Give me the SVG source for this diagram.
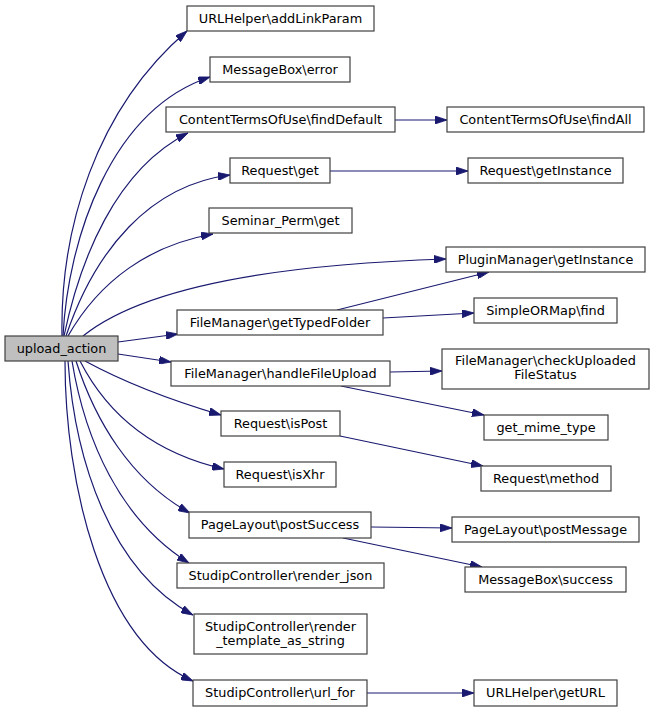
<svg xmlns="http://www.w3.org/2000/svg" width="655" height="712" viewBox="0 0 655 712">
<style>
.n rect{fill:#ffffff;stroke:#404040;stroke-width:1.2}
.n.root rect{fill:#bfbfbf}
text{font-family:"DejaVu Sans","Liberation Sans",sans-serif;font-size:12.85px;fill:#000000;text-anchor:middle}
.e path{fill:none;stroke:#191970;stroke-width:1.2}
</style>
<defs>
<marker id="ah" markerUnits="userSpaceOnUse" markerWidth="12" markerHeight="8" refX="12" refY="4" orient="auto">
<path d="M0,0 L12,4 L0,8 z" fill="#191970" stroke="#191970" stroke-width="0.8"/>
</marker>
</defs>
<rect width="655" height="712" fill="#ffffff"/>
<g id="edges" class="e">
<path marker-end="url(#ah)" d="M62,336 C60,230 95,110 187,31"/>
<path marker-end="url(#ah)" d="M63,336 C68,240 110,110 210,77"/>
<path marker-end="url(#ah)" d="M64,336 C80,260 115,170 188,133"/>
<path marker-end="url(#ah)" d="M66,336 C95,250 150,185 230,175"/>
<path marker-end="url(#ah)" d="M68,336 C100,280 150,245 213,234"/>
<path marker-end="url(#ah)" d="M83,336 C140,290 260,265 446,259"/>
<path marker-end="url(#ah)" d="M118,342 L178,334"/>
<path marker-end="url(#ah)" d="M118,354 L171,362"/>
<path marker-end="url(#ah)" d="M85,361 C120,380 170,400 221,415"/>
<path marker-end="url(#ah)" d="M80,361 C100,400 140,450 224,469"/>
<path marker-end="url(#ah)" d="M76,361 C95,420 130,480 190,513"/>
<path marker-end="url(#ah)" d="M72,361 C85,440 120,520 189,563"/>
<path marker-end="url(#ah)" d="M68,361 C75,460 110,570 193,615"/>
<path marker-end="url(#ah)" d="M65,361 C65,480 100,640 193,681"/>
<path marker-end="url(#ah)" d="M395,120 L447,120"/>
<path marker-end="url(#ah)" d="M330,171 L468,171"/>
<path marker-end="url(#ah)" d="M337,310 L489,272"/>
<path marker-end="url(#ah)" d="M383,318 L474,313"/>
<path marker-end="url(#ah)" d="M390,372 L442,371"/>
<path marker-end="url(#ah)" d="M341,386 L484,415"/>
<path marker-end="url(#ah)" d="M340,436 L483,466"/>
<path marker-end="url(#ah)" d="M371,527 L452,528"/>
<path marker-end="url(#ah)" d="M343,538 L482,567"/>
<path marker-end="url(#ah)" d="M367,693 L474,693"/>
</g>
<g id="upload_action" class="n root"><rect x="5" y="336" width="113" height="25"/><text x="61.5" y="352.5">upload_action</text></g>
<g id="addLinkParam" class="n"><rect x="187" y="6" width="187" height="25"/><text x="280.5" y="22.5">URLHelper\addLinkParam</text></g>
<g id="error" class="n"><rect x="210" y="57" width="140" height="25"/><text x="280" y="73.5">MessageBox\error</text></g>
<g id="findDefault" class="n"><rect x="166" y="107" width="229" height="25"/><text x="280.5" y="123.5">ContentTermsOfUse\findDefault</text></g>
<g id="findAll" class="n"><rect x="447" y="107" width="197" height="25"/><text x="545.5" y="123.5">ContentTermsOfUse\findAll</text></g>
<g id="get" class="n"><rect x="230" y="158" width="100" height="25"/><text x="280" y="174.5">Request\get</text></g>
<g id="getInstance" class="n"><rect x="468" y="158" width="155" height="25"/><text x="545.5" y="174.5">Request\getInstance</text></g>
<g id="seminarGet" class="n"><rect x="209" y="208" width="143" height="25"/><text x="280.5" y="224.5">Seminar_Perm\get</text></g>
<g id="pluginGetInstance" class="n"><rect x="446" y="247" width="199" height="25"/><text x="545.5" y="263.5">PluginManager\getInstance</text></g>
<g id="getTypedFolder" class="n"><rect x="177" y="310" width="206" height="25"/><text x="280" y="326.5">FileManager\getTypedFolder</text></g>
<g id="simpleFind" class="n"><rect x="474" y="298" width="143" height="25"/><text x="545.5" y="314.5">SimpleORMap\find</text></g>
<g id="handleFileUpload" class="n"><rect x="171" y="361" width="219" height="25"/><text x="280.5" y="377.5">FileManager\handleFileUpload</text></g>
<g id="checkUploaded" class="n"><rect x="442" y="349" width="207" height="40"/><text x="545.5" y="365">FileManager\checkUploaded</text><text x="545.5" y="379">FileStatus</text></g>
<g id="isPost" class="n"><rect x="221" y="411" width="119" height="25"/><text x="280.5" y="427.5">Request\isPost</text></g>
<g id="getMimeType" class="n"><rect x="484" y="415" width="124" height="25"/><text x="546" y="431.5">get_mime_type</text></g>
<g id="isXhr" class="n"><rect x="224" y="462" width="112" height="25"/><text x="280" y="478.5">Request\isXhr</text></g>
<g id="method" class="n"><rect x="481" y="466" width="130" height="25"/><text x="546" y="482.5">Request\method</text></g>
<g id="postSuccess" class="n"><rect x="189" y="512" width="182" height="26"/><text x="280" y="529">PageLayout\postSuccess</text></g>
<g id="postMessage" class="n"><rect x="452" y="517" width="187" height="25"/><text x="545.5" y="533.5">PageLayout\postMessage</text></g>
<g id="success" class="n"><rect x="465" y="567" width="161" height="25"/><text x="545.5" y="583.5">MessageBox\success</text></g>
<g id="renderJson" class="n"><rect x="177" y="563" width="207" height="25"/><text x="280.5" y="579.5">StudipController\render_json</text></g>
<g id="renderTemplate" class="n"><rect x="194" y="614" width="173" height="40"/><text x="280.5" y="630.5">StudipController\render</text><text x="280.5" y="645">_template_as_string</text></g>
<g id="urlFor" class="n"><rect x="193" y="680" width="174" height="26"/><text x="280" y="697">StudipController\url_for</text></g>
<g id="getURL" class="n"><rect x="474" y="680" width="143" height="26"/><text x="545.5" y="697">URLHelper\getURL</text></g>
</svg>
